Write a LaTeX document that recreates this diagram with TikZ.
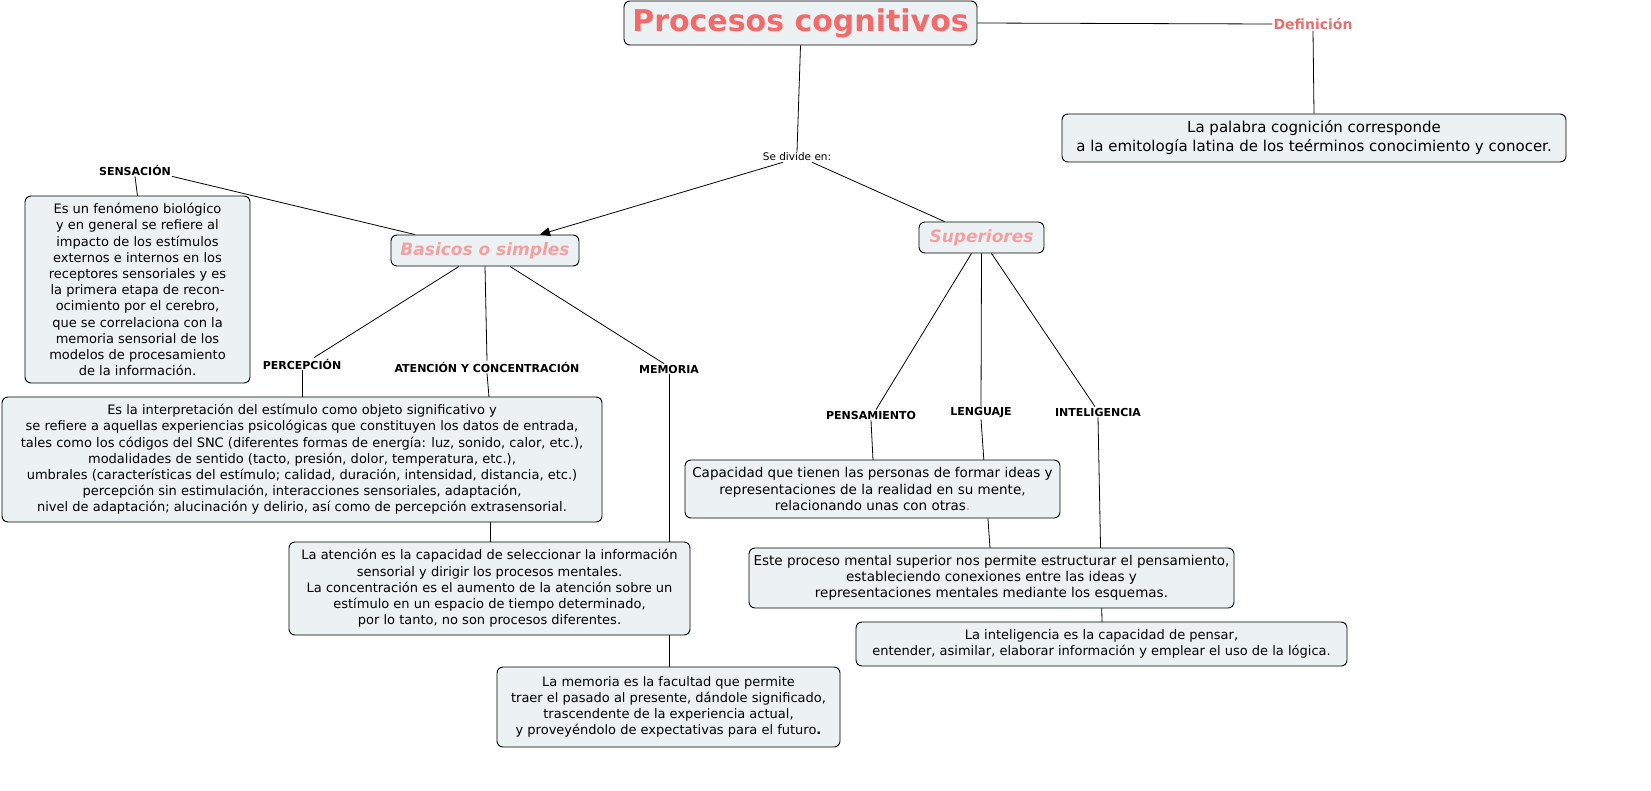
\documentclass[tikz,border=0pt]{standalone}
\usepackage{fontspec}
\setmainfont{DejaVu Sans}
\usetikzlibrary{arrows.meta}
\definecolor{boxfill}{RGB}{236,242,244}
\definecolor{titlered}{RGB}{242,106,106}
\definecolor{subpink}{RGB}{245,160,160}
\definecolor{defred}{RGB}{234,110,110}
\begin{document}
\begin{tikzpicture}[x=1pt,y=-1pt,
  box/.style={draw=black, fill=boxfill, rounded corners=6pt, line width=0.9pt, inner sep=0pt, align=center},
  body/.style={font=\fontsize{13}{16.2}\selectfont},
  lbl/.style={font=\fontsize{11}{13}\selectfont\bfseries, inner sep=1pt},
  con/.style={draw=black, line width=0.8pt}]
\useasboundingbox (0,0) rectangle (1651,790);
% nodes (positions)
\node[box, minimum width=353pt, minimum height=44pt, text=titlered, font=\fontsize{30}{34}\selectfont\bfseries] (title) at (800.5,23) {Procesos cognitivos};
\node[font=\fontsize{14}{16}\selectfont\bfseries, text=defred, inner sep=1pt] (def) at (1313,24) {Definición};
\node[box, minimum width=504pt, minimum height=48pt, font=\fontsize{15}{19}\selectfont] (defbox) at (1314,138) {La palabra cognición corresponde\\a la emitología latina de los teérminos conocimiento y conocer.};
\node[font=\fontsize{10.5}{12}\selectfont, inner sep=1pt] (divide) at (797,157) {Se divide en:};
\node[box, minimum width=188pt, minimum height=31pt, text=subpink, font=\fontsize{17}{20}\selectfont\bfseries\itshape] (basicos) at (485,250.5) {Basicos o simples};
\node[box, minimum width=125pt, minimum height=31pt, text=subpink, font=\fontsize{17}{20}\selectfont\bfseries\itshape] (sup) at (981.5,237.5) {Superiores};
\node[lbl] (sens) at (135,170) {SENSACIÓN};
\node[lbl] (perc) at (302,364) {PERCEPCIÓN};
\node[lbl] (aten) at (487,367) {ATENCIÓN Y CONCENTRACIÓN};
\node[lbl] (mem) at (669,369) {MEMORIA};
\node[lbl] (pens) at (871,415) {PENSAMIENTO};
\node[lbl] (leng) at (981,413) {LENGUAJE};
\node[lbl] (intel) at (1098,412) {INTELIGENCIA};
% connectors (drawn before boxes so boxes cover them)
\draw[con] (title.east) -- (def.west);
\draw[con] (def.south) -- (defbox.north);
\draw[con] (title.south) -- (divide.north);
\draw[con, -{Triangle[length=10pt,width=9pt]}] ([xshift=-14pt]divide.south) -- ([xshift=55pt]basicos.north);
\draw[con] ([xshift=15pt]divide.south) -- ([xshift=-37pt]sup.north);
\draw[con] ([xshift=-70pt]basicos.north) -- (sens.south east);
\draw[con] ([xshift=-26pt]basicos.south) -- ([xshift=12pt]perc.north);
\draw[con] (basicos.south) -- (aten.north);
\draw[con] ([xshift=25pt]basicos.south) -- ([xshift=-5pt]mem.north);
\draw[con] ([xshift=-10pt]sup.south) -- ([xshift=5pt]pens.north);
\draw[con] (sup.south) -- (leng.north);
\draw[con] ([xshift=10pt]sup.south) -- ([xshift=-3pt]intel.north);
% text boxes
\coordinate (sensboxc) at (137.5,289.5);
\draw[con] (sens.south) -- (sensboxc |- 0,196);
\draw[con] (perc.south) -- (302,397);
\draw[con] (aten.south) -- (489,397);
\draw[con] (mem.south) -- (669,667);
\draw[con] (pens.south) -- (873,460);
\draw[con] (leng.south) -- (990,548);
\draw[con] (intel.south) -- (1102,622);
\draw[con] (490,522) -- (490,542);
\node[box, body, minimum width=225pt, minimum height=187pt] (sensbox) at (sensboxc) {Es un fenómeno biológico\\y en general se refiere al\\impacto de los estímulos\\externos e internos en los\\receptores sensoriales y es\\la primera etapa de recon-\\ocimiento por el cerebro,\\que se correlaciona con la\\memoria sensorial de los\\modelos de procesamiento\\de la información.};
\node[box, body, minimum width=600pt, minimum height=125pt] (percbox) at (302,459.5) {Es la interpretación del estímulo como objeto significativo y\\se refiere a aquellas experiencias psicológicas que constituyen los datos de entrada,\\tales como los códigos del SNC (diferentes formas de energía: luz, sonido, calor, etc.),\\modalidades de sentido (tacto, presión, dolor, temperatura, etc.),\\umbrales (características del estímulo; calidad, duración, intensidad, distancia, etc.)\\percepción sin estimulación, interacciones sensoriales, adaptación,\\nivel de adaptación; alucinación y delirio, así como de percepción extrasensorial.};
\node[box, body, minimum width=401pt, minimum height=93pt] (atenbox) at (489.5,588.5) {La atención es la capacidad de seleccionar la información\\sensorial y dirigir los procesos mentales.\\La concentración es el aumento de la atención sobre un\\estímulo en un espacio de tiempo determinado,\\por lo tanto, no son procesos diferentes.};
\node[box, body, minimum width=343pt, minimum height=80pt] (memobox) at (668.5,707) {La memoria es la facultad que permite\\traer el pasado al presente, dándole significado,\\trascendente de la experiencia actual,\\y proveyéndolo de expectativas para el futuro{\bfseries .}};
\node[box, body, font=\fontsize{13.5}{16.2}\selectfont, minimum width=375pt, minimum height=58pt] (capbox) at (872.5,489) {Capacidad que tienen las personas de formar ideas y\\representaciones de la realidad en su mente,\\relacionando unas con otras{\color{titlered}.}};
\node[box, body, font=\fontsize{13.5}{16.2}\selectfont, minimum width=485pt, minimum height=60pt] (estebox) at (991.5,578) {Este proceso mental superior nos permite estructurar el pensamiento,\\estableciendo conexiones entre las ideas y\\representaciones mentales mediante los esquemas.};
\node[box, body, minimum width=491pt, minimum height=44pt] (intelbox) at (1101.5,644) {La inteligencia es la capacidad de pensar,\\entender, asimilar, elaborar información y emplear el uso de la lógica.};
\end{tikzpicture}
\end{document}
